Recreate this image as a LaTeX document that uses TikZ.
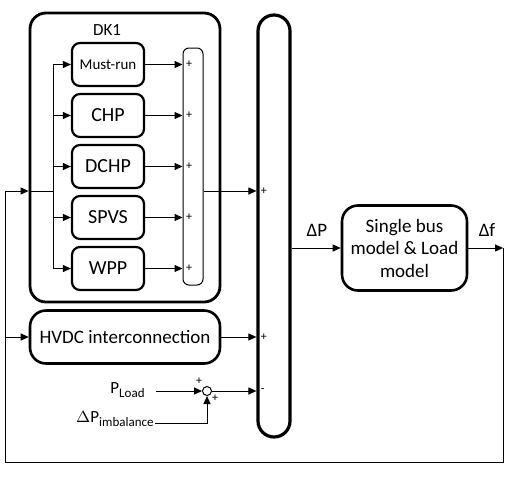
\documentclass[tikz,border=0pt]{standalone}
\usepackage{fontspec}
\setmainfont{Carlito}
\usetikzlibrary{arrows.meta, calc}

\begin{document}
\begin{tikzpicture}[x=0.5pt, y=-0.5pt, >={Triangle[length=4pt,width=3.5pt]},
  unit/.style={draw, line width=1.1pt, rounded corners=4pt, minimum width=36pt, minimum height=21.5pt, inner sep=0pt},
  bigbox/.style={draw, line width=1.3pt, rounded corners=8pt, inner sep=0pt},
  sign/.style={font=\fontsize{6}{6}\selectfont, inner sep=0pt},
  conn/.style={line width=0.5pt},
  lbl/.style={font=\fontsize{9.5}{11}\selectfont, inner sep=0pt}]
  \useasboundingbox (0,0) rectangle (507,477);

  % DK1 area
  \node[bigbox, line width=1.4pt, minimum width=95pt, minimum height=144.5pt] (dk1) at (125,157.5) {};
  \node[font=\fontsize{8.5}{10}\selectfont] (dk1lbl) at (107,30) {DK1};

  % Units inside DK1
  \foreach \name/\txt/\fs [count=\i] in {mustrun/Must-run/7.5, chp/CHP/10, dchp/DCHP/10, spvs/SPVS/10, wpp/WPP/10}
    \node[unit, font=\fontsize{\fs}{12}\selectfont] (\name) at (108,13.5+51*\i) {\txt};

  % Summation blocks
  \node[draw, line width=0.5pt, rounded corners=3pt, minimum width=10pt, minimum height=118.5pt] (sumdk) at (193,166.5) {};
  \node[draw, line width=1.6pt, rounded corners=8pt, minimum width=16pt, minimum height=211pt] (sumall) at (274,226) {};
  \node[draw, line width=0.5pt, circle, minimum size=4.5pt, inner sep=0pt] (sumload) at (207,391) {};

  % Bus inside DK1
  \coordinate (fbin) at (5,191);
  \coordinate (bus) at (53,191);
  \draw[conn] (bus |- mustrun) -- (bus |- wpp);
  \foreach \name in {mustrun, chp, dchp, spvs, wpp} {
    \draw[conn,->] (bus |- \name) -- (\name.west);
    \draw[conn,->] (\name.east) -- (sumdk.west |- \name.east) node[sign, right=1.5pt] (plus-\name) {+};
  }
  \draw[conn,->] (fbin) -- (dk1.west |- fbin);
  \draw[conn] (dk1.west |- fbin) -- (bus);
  \draw[conn,->] (sumdk.east |- bus) -- (sumall.west |- bus) node[sign, right=2pt] (plus-dk1) {+};

  % HVDC
  \node[bigbox, minimum width=95pt, minimum height=26.5pt, font=\fontsize{9.5}{11}\selectfont] (hvdc) at (125,337) {HVDC interconnection};
  \draw[conn,->] (fbin |- hvdc) -- (hvdc.west);
  \draw[conn,->] (hvdc.east) -- (sumall.west |- hvdc.east) node[sign, right=2pt] (plus-hvdc) {+};

  % Load and imbalance
  \node[anchor=east, inner sep=0pt, font=\fontsize{8.5}{10}\selectfont] (pload) at (146,390) {$\mathrm{P}_{\mbox{\fontsize{6.5}{7}\selectfont Load}}$};
  \node[anchor=east, inner sep=0pt, font=\fontsize{8.5}{10}\selectfont] (pimb) at (155,419) {$\Delta\mathrm{P}_{\mbox{\fontsize{6.5}{7}\selectfont imbalance}}$};
  \coordinate (ploadout) at (156,391);
  \coordinate (imbout) at (155,423);
  \draw[conn,->] (ploadout) -- (sumload.west);
  \draw[conn,->] (imbout) -| (sumload.south);
  \node[sign] (plus-load) at (199,381) {+};
  \node[sign] (plus-imb) at (215,398) {+};
  \draw[conn,->] (sumload.east) -- (sumall.west |- sumload.east) node[sign, right=2pt] (minus-load) {-};

  % Single bus model and feedback
  \node[bigbox, minimum width=62.5pt, minimum height=42.5pt, align=center, font=\fontsize{9.5}{11.25}\selectfont] (busmodel) at (404.5,248) {Single bus\\model \& Load\\model};
  \draw[conn,->] (sumall.east |- busmodel) -- (busmodel.west);
  \node[lbl] (dp) at (317,230) {ΔP};
  \coordinate (fbr) at (503,248);
  \coordinate (fbbot) at (503,462);
  \draw[conn,->] (busmodel.east) -- (fbr);
  \node[lbl] (df) at (487,230) {Δf};
  \draw[conn] (fbr) -- (fbbot) -| (fbin);
\end{tikzpicture}
\end{document}
